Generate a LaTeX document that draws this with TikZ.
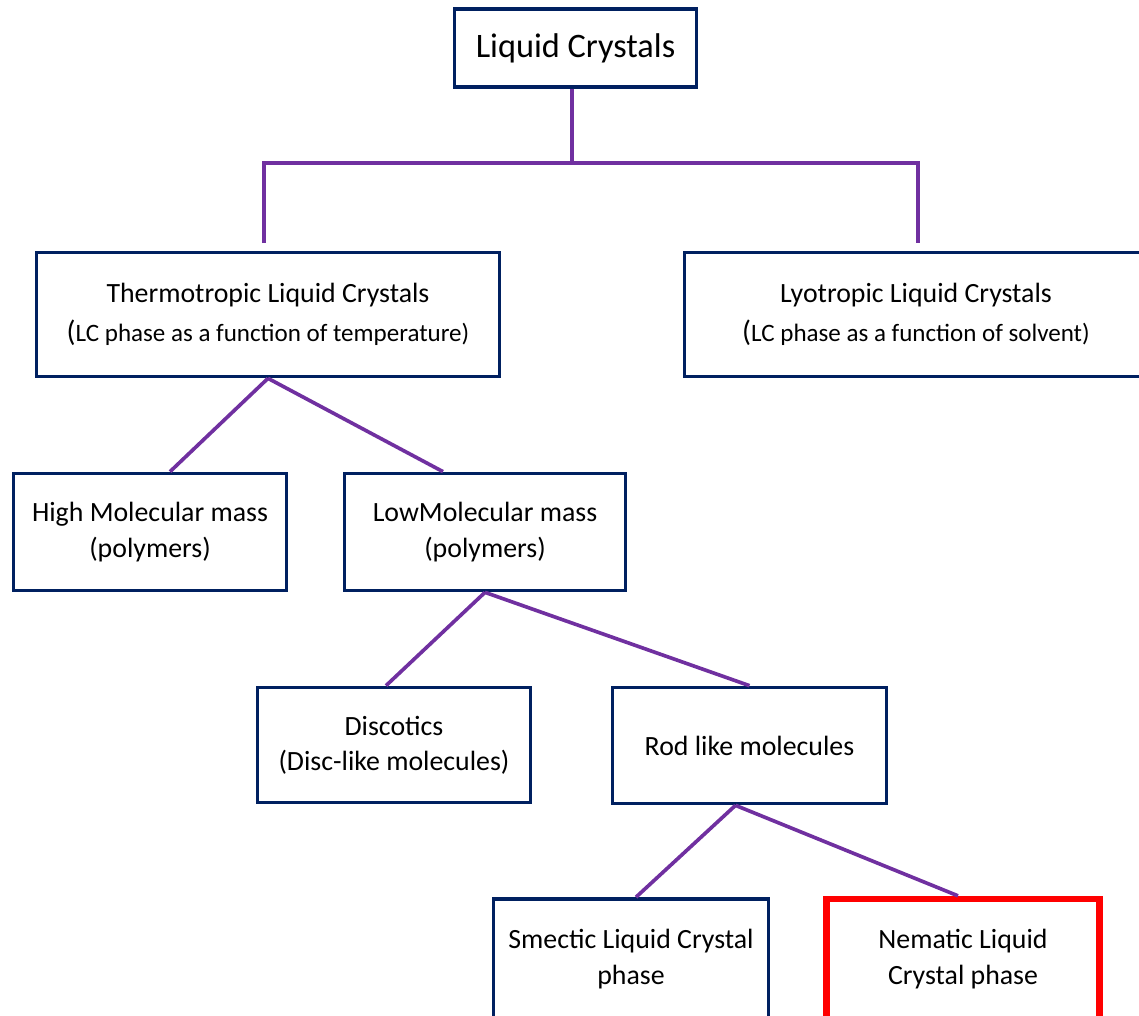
\documentclass[tikz,border=0pt]{standalone}
\usepackage{fontspec}
\setmainfont{Carlito}
\usetikzlibrary{calc}
\usepackage{xcolor}
\definecolor{navy}{HTML}{002060}
\definecolor{lcpurple}{HTML}{7030A0}
\newcommand{\subtext}[1]{{\fontsize{17.8}{21}\selectfont #1}}

\begin{document}
\begin{tikzpicture}[
		x=0.025cm,y=-0.025cm,
		box/.style={draw=navy,line width=2.6pt,rectangle,fill=white,align=center,inner sep=0pt,font=\fontsize{19.8}{25}\selectfont},
		hotbox/.style={box,draw=red,line width=4.5pt},
		link/.style={draw=lcpurple,line width=2.6pt}
		]
		\clip (0,0) rectangle (1139,1015);
		
		% Radice
		\node[box,minimum width=6.05cm,minimum height=1.95cm,font=\fontsize{24.4}{30}\selectfont] (lc) at (575.5,48) {Liquid Crystals};
		
		% Primo livello
		\node[box,minimum width=11.575cm,minimum height=3.1cm] (thermo) at (268,314.5) {Thermotropic Liquid Crystals\\[3pt]{\fontsize{21}{25}\selectfont(}\subtext{LC phase as a function of temperature)}};
		\node[box,minimum width=11.575cm,minimum height=3.1cm] (lyo) at (916,314.5) {Lyotropic Liquid Crystals\\[3pt]{\fontsize{21}{25}\selectfont(}\subtext{LC phase as a function of solvent)}};
		
		% Massa molecolare
		\node[box,minimum width=6.825cm,minimum height=2.925cm] (high) at (150,532) {High Molecular mass\\(polymers)};
		\node[box,minimum width=7.025cm,minimum height=2.925cm] (low) at (485,532) {LowMolecular mass\\(polymers)};
		
		% Forma delle molecole
		\node[box,minimum width=6.825cm,minimum height=2.875cm] (disc) at (394,745) {Discotics\\(Disc-like molecules)};
		\node[box,minimum width=6.85cm,minimum height=2.9cm] (rod) at (749.5,745.5) {Rod like molecules};
		
		% Fasi
		\node[box,minimum width=6.875cm,minimum height=3cm] (smectic) at (631,959) {Smectic Liquid Crystal\\phase};
		\node[hotbox,minimum width=6.825cm,minimum height=3cm] (nematic) at (963,959) {Nematic Liquid\\Crystal phase};
		
		% Connessioni
		\coordinate (barL) at (264,163);
		\coordinate (barR) at (918,163);
		\coordinate (endL) at (264,243);
		\coordinate (endR) at (918,243);
		\draw[link] ($(lc.south)+(-3.5,0)$) -- ($(lc.south |- barL)+(-3.5,0)$);
		\draw[link] (endL) -- (barL) -- (barR) -- (endR);
		
		\draw[link] (thermo.south) -- ($(high.north)+(20,0)$);
		\draw[link] (thermo.south) -- ($(low.north)+(-42,0)$);
		\draw[link] (low.south) -- ($(disc.north)+(-8,0)$);
		\draw[link] (low.south) -- (rod.north);
		\draw[link] ($(rod.south)+(-14,0)$) -- ($(smectic.north)+(5,0)$);
		\draw[link] ($(rod.south)+(-14,0)$) -- ($(nematic.north)+(-5,0)$);
		
	\end{tikzpicture}
\end{document}
